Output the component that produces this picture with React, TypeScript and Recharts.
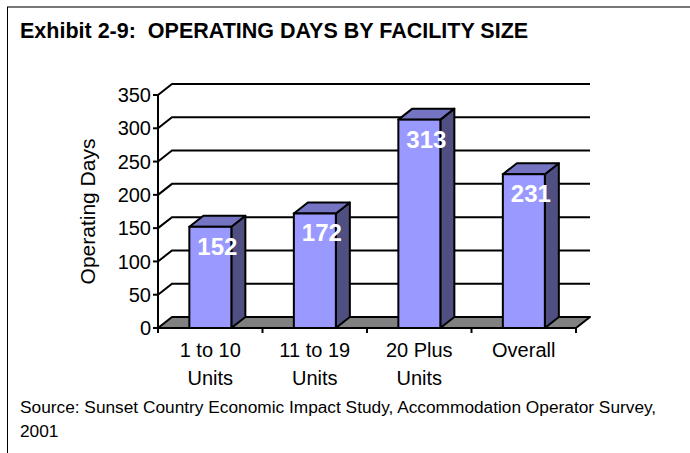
import React from 'react';
import { BarChart, Bar, XAxis, YAxis, CartesianGrid, LabelList } from 'recharts';

const categories = ['1 to 10\nUnits', '11 to 19\nUnits', '20 Plus\nUnits', 'Overall'];
const operatingDays = [152, 172, 313, 231];
const yTicks = [0, 50, 100, 150, 200, 250, 300, 350];

const titleText = 'Exhibit 2-9:  OPERATING DAYS BY FACILITY SIZE';
const sourceLines = ['Source: Sunset Country Economic Impact Study, Accommodation Operator Survey,', '2001'];
const yAxisTitle = 'Operating Days';

const data = categories.map((c, i) => ({ name: c, days: operatingDays[i] }));

const DX = 14;
const DY = 11;
const FONT = '"Liberation Sans", Arial, Helvetica, sans-serif';

const Bar3D = (props: any) => {
  const { x, y, width, height } = props;
  if (!(height > 0)) return null;
  const front = '#9999FF';
  const side = '#4F4F82';
  const top = '#7474C2';
  return (
    <g>
      <polygon
        points={`${x + width},${y} ${x + width + DX},${y - DY} ${x + width + DX},${y + height - DY} ${x + width},${y + height}`}
        fill={side}
        stroke="#000"
        strokeWidth={2}
        strokeLinejoin="round"
      />
      <polygon
        points={`${x},${y} ${x + DX},${y - DY} ${x + width + DX},${y - DY} ${x + width},${y}`}
        fill={top}
        stroke="#000"
        strokeWidth={2}
        strokeLinejoin="round"
      />
      <rect x={x} y={y} width={width} height={height} fill={front} stroke="#000" strokeWidth={2} />
    </g>
  );
};

const gridLine = (p: any) => {
  const { x1, x2, y1, y, height, index } = p;
  const isFloor = Math.abs(y1 - (y + height)) < 1;
  if (isFloor) {
    return (
      <polygon
        key={`g-${index}`}
        points={`${x1},${y1} ${x1 + DX},${y1 - DY} ${x2 + DX},${y1 - DY} ${x2},${y1}`}
        fill="#808080"
        stroke="#000"
        strokeWidth={2}
        strokeLinejoin="round"
      />
    );
  }
  return (
    <polyline
      key={`g-${index}`}
      points={`${x1},${y1} ${x1 + DX},${y1 - DY} ${x2 + DX},${y1 - DY}`}
      fill="none"
      stroke="#000"
      strokeWidth={2}
    />
  );
};

const XTick = (props: any) => {
  const { x, y, payload, index, width, visibleTicksCount } = props;
  const band = width / (visibleTicksCount || categories.length);
  const lines = String(payload.value).split('\n');
  return (
    <g>
      {index === 0 && <line x1={x - band / 2} y1={y} x2={x - band / 2} y2={y + 5} stroke="#000" strokeWidth={2} />}
      <line x1={x + band / 2} y1={y} x2={x + band / 2} y2={y + 5} stroke="#000" strokeWidth={2} />
      {lines.map((ln, i) => (
        <text key={i} x={x} y={y + 29 + i * 28} textAnchor="middle" fontSize={20} fontFamily={FONT} fill="#000">
          {ln}
        </text>
      ))}
    </g>
  );
};

const ValueLabel = (props: any) => {
  const { x, y, width, value } = props;
  return (
    <text
      x={x + width / 2 + DX / 2}
      y={y + 28}
      textAnchor="middle"
      fontSize={24}
      fontWeight="bold"
      fontFamily={FONT}
      fill="#fff"
    >
      {value}
    </text>
  );
};

const YTitle = (props: any) => {
  const vb = props.viewBox || {};
  const cy = vb.y + vb.height / 2;
  const cx = 87;
  return (
    <text
      x={cx}
      y={cy}
      transform={`rotate(-90, ${cx}, ${cy})`}
      textAnchor="middle"
      dominantBaseline="central"
      fontSize={21}
      fontFamily={FONT}
      fill="#000"
    >
      {yAxisTitle}
    </text>
  );
};

export default function App() {
  return (
    <div style={{ position: 'absolute', left: 0, top: 0, width: 690, height: 453, background: '#fff' }}>
      <BarChart
        width={690}
        height={453}
        data={data}
        margin={{ top: 95, right: 114, bottom: 25, left: 60 }}
        barCategoryGap="30%"
      >
        <CartesianGrid vertical={false} horizontal={gridLine as any} />
        <XAxis
          dataKey="name"
          height={100}
          tickLine={false}
          tickSize={0}
          tickMargin={0}
          axisLine={{ stroke: '#000', strokeWidth: 2 }}
          tick={<XTick />}
          interval={0}
        />
        <YAxis
          width={98}
          domain={[0, 350]}
          ticks={yTicks}
          interval={0}
          tickSize={5}
          tickMargin={2}
          axisLine={{ stroke: '#000', strokeWidth: 2 }}
          tickLine={{ stroke: '#000', strokeWidth: 2 }}
          tick={{ fill: '#000', fontSize: 20, fontFamily: FONT }}
          label={{ content: <YTitle /> } as any}
        />
        <Bar dataKey="days" shape={<Bar3D />} isAnimationActive={false}>
          <LabelList dataKey="days" content={<ValueLabel />} />
        </Bar>
      </BarChart>
      <svg
        width={690}
        height={453}
        style={{ position: 'absolute', left: 0, top: 0, pointerEvents: 'none' }}
      >
        <line x1={7} y1={7} x2={690} y2={7} stroke="#777" strokeWidth={2} />
        <line x1={7.5} y1={7} x2={7.5} y2={453} stroke="#000" strokeWidth={1} />
        <text x={20} y={38} fontSize={21.5} fontWeight="bold" fontFamily={FONT} fill="#000" style={{ whiteSpace: 'pre' }}>
          {titleText}
        </text>
        {sourceLines.map((s, i) => (
          <text key={i} x={20} y={413 + i * 24} fontSize={17.3} fontFamily={FONT} fill="#000">
            {s}
          </text>
        ))}
      </svg>
    </div>
  );
}
